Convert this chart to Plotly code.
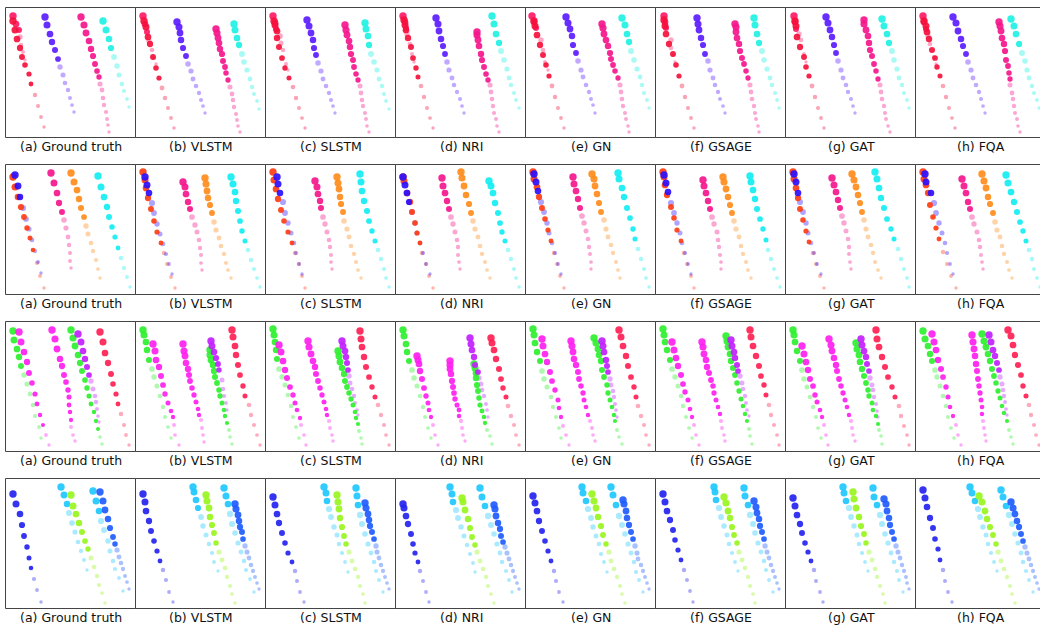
import plotly.graph_objects as go

# ---------------- captions ----------------
CAPTIONS = ["(a) Ground truth", "(b) VLSTM", "(c) SLSTM", "(d) NRI",
            "(e) GN", "(f) GSAGE", "(g) GAT", "(h) FQA"]

# Each agent: 8 panels (a..h); each panel = [observed/strong points, faded points]
# coordinates are panel units (0..130, y downward)

# ---------------- row 1 ----------------
R1_RED = [
 [[(7,13),(9,22),(11,31),(14,40),(16,49),(19,57),(23,66),(25,76)],[(29,87),(32,98),(35,109),(38,119)]],
 [[(8,13),(10,19),(12,29),(14,36),(17,49),(20,60),(23,70)],[(26,80),(29,90),(32,100),(35,110),(38,120)]],
 [[(8,13),(9,17),(11,23),(11,30),(13,39),(16,50),(19,60),(23,70)],[(27,79),(30,90),(33,100),(36,110),(39,120)]],
 [[(8,12),(9,17),(10,22),(12,30),(15,39),(17,50),(20,60),(22,69)],[(25,78),(28,89),(31,100),(34,110),(37,120)]],
 [[(8,13),(9,18),(11,27),(14,37),(17,47),(20,57),(23,68)],[(26,78),(29,89),(32,100),(35,110),(38,120)]],
 [[(8,12),(9,18),(10,26),(13,36),(17,46),(20,57),(23,68)],[(26,78),(29,89),(32,100),(35,110),(38,120)]],
 [[(9,13),(10,18),(11,29),(14,39),(18,49),(20,59),(23,68)],[(26,78),(29,89),(32,100),(35,110),(38,120)]],
 [[(8,13),(10,18),(11,24),(13,31),(16,42),(19,50),(21,59),(24,68)],[(27,78),(30,89),(33,100),(36,110),(39,120)]],
]
R1_PINK = [
 [[(7,8),(10,16),(13,22)],[(14,29),(15,37),(17,44),(19,52)]],
 [[(7,8),(9,16),(11,24)],[(13,33),(16,42),(18,50),(20,56)]],
 [[(7,8),(9,15),(10,21)],[(14,28),(15,35),(17,42),(20,56),(22,62)]],
 [[(7,8),(9,14),(10,20)],[(11,26),(14,36),(16,46),(18,54)]],
 [[(6,8),(8,14),(10,20)],[(15,32),(17,42),(19,54),(22,62)]],
 [[(8,8),(9,14),(10,20)],[(15,32),(15,40),(17,47),(19,54)]],
 [[(8,8),(9,14),(10,21)],[(13,26),(15,32),(18,46),(20,54)]],
 [[(7,8),(8,14),(10,21)],[(12,28),(14,36),(18,49),(20,56)]],
]
R1_PURPLE = [
 [[(39,9),(41,17),(44,26),(46,34),(49,42),(52,51)],[(54,59),(57,67),(59,75),(62,82),(64,90),(66,97),(68,104)]],
 [[(41,14),(43,19),(44,25),(45,32),(47,40),(50,48)],[(52,56),(55,63),(57,71),(60,78),(63,85),(65,92),(67,98),(69,105)]],
 [[(41,12),(43,18),(45,25),(47,32),(48,40),(50,47)],[(52,55),(55,63),(57,71),(60,78),(63,85),(65,92),(67,98),(69,105)]],
 [[(40,10),(42,16),(43,23),(45,31),(47,38),(49,46)],[(51,54),(53,62),(56,70),(58,77),(61,84),(64,91),(66,98),(68,105)]],
 [[(40,9),(42,15),(44,21),(46,28),(47,37),(50,45)],[(52,53),(55,62),(57,69),(60,77),(63,84),(65,91),(67,97),(69,105)]],
 [[(41,10),(42,16),(43,22),(45,30),(47,37),(49,46)],[(52,53),(54,62),(57,70),(59,77),(62,84),(64,91),(67,98),(69,105)]],
 [[(40,9),(42,15),(44,22),(46,29),(48,37),(50,45)],[(52,53),(55,62),(57,70),(60,77),(62,84),(65,91),(67,98),(69,105)]],
 [[(37,9),(40,15),(42,23),(45,31),(47,38),(50,46)],[(52,54),(55,62),(57,70),(60,77),(63,84),(65,91),(67,98),(69,105)]],
]
R1_MAGENTA = [
 [[(75,9),(78,17),(80,25),(83,33),(85,41),(87,48),(89,56),(91,63),(93,69)],[(94,76),(96,82),(97,90),(98,97),(100,104),(101,111),(102,117),(103,124)]],
 [[(80,21),(81,25),(82,30),(83,35),(84,41),(86,46),(87,53),(89,59),(90,65),(92,72)],[(94,79),(96,86),(97,92),(98,99),(100,106),(101,112),(102,118),(104,124)]],
 [[(79,17),(80,22),(81,27),(83,33),(84,39),(85,46),(87,52),(88,59),(90,66),(92,72)],[(94,78),(95,85),(96,92),(97,98),(99,105),(100,111),(101,118),(103,124)]],
 [[(81,24),(81,27),(82,32),(83,38),(85,46),(86,52),(88,59),(90,66),(92,72)],[(94,77),(95,84),(96,91),(97,98),(98,105),(100,111),(101,118),(103,124)]],
 [[(76,16),(77,20),(78,26),(80,32),(82,38),(84,45),(85,51),(87,57),(89,63),(92,70)],[(94,77),(95,84),(96,91),(97,98),(99,105),(100,111),(102,118),(103,124)]],
 [[(79,16),(80,19),(80,24),(81,30),(83,36),(84,43),(86,50),(88,56),(90,63),(92,70)],[(94,77),(95,84),(96,91),(98,98),(99,105),(100,111),(102,118),(103,124)]],
 [[(78,12),(78,16),(80,22),(82,28),(83,35),(84,42),(86,48),(88,56),(90,63),(92,71)],[(94,77),(95,84),(96,91),(98,98),(99,105),(100,111),(102,118),(104,124)]],
 [[(83,14),(84,18),(85,23),(86,30),(88,36),(89,43),(90,52),(92,58),(93,65),(94,71)],[(94,77),(96,85),(97,91),(98,98),(99,105),(101,111),(102,118),(104,124)]],
]
R1_CYAN = [
 [[(97,13),(100,22),(103,31),(105,40)],[(108,49),(111,58),(113,67),(116,76),(118,83),(121,91),(123,99)]],
 [[(98,16),(99,22),(101,30),(103,37)],[(106,46),(108,54),(111,62),(114,71),(116,79),(118,86),(121,93),(123,101)]],
 [[(99,15),(100,21),(102,28),(103,37)],[(105,46),(108,54),(111,62),(113,71),(116,78),(118,86),(120,93),(123,101)]],
 [[(96,8),(98,16),(100,26),(103,35)],[(105,43),(108,52),(111,61),(113,70),(115,77),(118,85),(120,92),(123,100)]],
 [[(96,10),(99,17),(101,26),(103,34)],[(105,43),(108,52),(111,61),(114,69),(116,77),(118,85),(121,92),(123,100)]],
 [[(98,10),(99,17),(101,26),(103,35)],[(106,43),(108,52),(111,61),(114,70),(116,77),(119,85),(121,92),(123,100)]],
 [[(96,11),(98,18),(101,26),(103,35)],[(106,43),(108,52),(111,61),(113,70),(116,77),(118,85),(121,92),(123,100)]],
 [[(95,11),(98,18),(100,26),(103,36)],[(106,45),(109,53),(111,62),(113,70),(116,78),(118,85),(121,92),(123,100)]],
]

# ---------------- row 2 ----------------
R2_VERMILION = [
 [[(7,12),(9,22),(12,32),(15,42),(18,52),(21,63),(24,73),(27,85)],[(31,98),(34,111),(38,123)]],
 [[(7,7),(9,15),(10,23),(12,33),(15,44),(18,56),(21,67),(25,78)],[(28,88),(31,99),(35,112),(39,123)]],
 [[(7,7),(8,15),(10,24),(12,34),(15,45),(18,56),(22,67),(26,78)],[(29,88),(33,99),(36,111),(39,123)]],
 [[(7,12),(8,16),(11,28),(14,37),(16,47),(19,58),(21,68),(24,78)],[(26,88),(30,99),(33,111),(37,123)]],
 [[(7,7),(8,14),(11,22),(13,32),(16,43),(19,54),(22,65),(25,76)],[(28,88),(31,99),(34,111),(38,123)]],
 [[(7,7),(8,12),(9,20),(11,30),(15,42),(18,53),(21,65),(25,76)],[(28,88),(31,99),(35,111),(38,123)]],
 [[(7,7),(8,14),(10,23),(12,33),(14,44),(17,55),(20,66),(23,77)],[(27,88),(30,99),(34,111),(38,123)]],
 [[(7,7),(8,14),(10,20),(12,28),(14,40),(17,52),(20,63),(23,74)],[(27,87),(31,99),(35,111),(40,123)]],
]
R2_BLUE = [
 [[(9,10),(12,21),(14,32)],[(17,43),(20,54),(23,64),(26,75),(29,86),(32,97),(35,108)]],
 [[(9,12),(11,20),(13,28)],[(16,38),(18,48),(21,59),(24,69),(27,79),(30,89),(33,99),(36,109)]],
 [[(11,12),(12,19),(14,28)],[(17,37),(19,48),(22,58),(25,68),(28,78),(30,88),(33,99),(36,109)]],
 [[(7,12),(9,20),(11,28),(13,37)],[(16,47),(19,58),(21,68),(24,78),(27,88),(30,99),(34,109)]],
 [[(8,9),(10,17),(12,26)],[(15,37),(18,47),(21,58),(23,68),(26,78),(29,88),(32,99),(35,109)]],
 [[(8,10),(10,18),(12,27)],[(15,38),(18,48),(21,58),(24,68),(26,78),(29,88),(32,99),(35,109)]],
 [[(8,9),(10,17),(12,28)],[(14,37),(17,47),(20,58),(22,68),(25,78),(28,88),(31,99),(35,109)]],
 [[(9,9),(10,17),(15,28)],[(18,38),(20,48),(23,58),(26,68),(29,78),(31,88),(34,99),(37,109)]],
]
R2_PINK = [
 [[(45,8),(48,18),(51,28),(53,38),(56,47)],[(58,55),(60,63),(62,72),(63,80),(64,88),(64,96),(65,103)]],
 [[(47,17),(49,22),(50,29),(52,37),(54,44)],[(56,52),(59,60),(61,67),(63,75),(64,83),(65,90),(65,98),(66,105)]],
 [[(49,16),(51,22),(52,29),(54,36),(55,43)],[(57,52),(59,59),(61,67),(63,75),(64,82),(65,90),(65,97),(66,104)]],
 [[(46,13),(47,21),(49,28),(51,36),(53,44)],[(55,52),(57,59),(59,67),(61,75),(62,82),(62,90),(63,97),(64,104)]],
 [[(47,12),(48,19),(50,26),(52,34),(54,43)],[(56,51),(58,58),(60,66),(62,74),(63,82),(64,89),(65,97),(65,104)]],
 [[(47,15),(48,21),(50,28),(52,36),(54,44)],[(56,52),(58,59),(61,67),(62,75),(63,82),(64,90),(65,97),(65,104)]],
 [[(46,13),(48,20),(50,27),(52,35),(54,43)],[(56,51),(58,58),(60,66),(62,74),(63,82),(63,89),(64,97),(65,104)]],
 [[(46,14),(48,21),(50,28),(52,37),(54,44)],[(56,52),(58,59),(61,67),(63,75),(64,82),(65,90),(66,97),(67,104)]],
]
R2_ORANGE = [
 [[(65,8),(68,17),(71,25),(73,34),(75,43),(78,52)],[(80,61),(82,69),(85,78),(87,86),(90,95),(92,104),(94,113)]],
 [[(69,13),(70,19),(71,26),(72,33),(74,40),(76,48)],[(78,57),(80,65),(83,73),(85,81),(88,89),(90,98),(92,105),(95,113)]],
 [[(71,12),(72,18),(73,24),(74,32),(75,39),(77,47)],[(78,56),(81,64),(83,72),(85,81),(88,89),(90,97),(92,105),(95,113)]],
 [[(65,7),(66,13),(68,21),(70,30),(73,39),(75,48)],[(77,56),(79,64),(82,72),(84,81),(86,89),(89,97),(91,105),(94,113)]],
 [[(66,9),(68,14),(69,21),(71,29),(73,38),(75,47)],[(78,55),(80,64),(82,72),(85,80),(87,88),(90,97),(92,105),(94,113)]],
 [[(67,12),(68,17),(70,24),(72,32),(74,40),(76,48)],[(78,56),(80,64),(83,72),(85,81),(87,89),(90,97),(92,105),(95,113)]],
 [[(66,9),(68,15),(70,22),(72,30),(74,38),(76,47)],[(78,55),(80,64),(82,72),(85,80),(87,88),(89,97),(92,105),(95,113)]],
 [[(66,9),(68,16),(70,23),(72,32),(74,39),(77,48)],[(79,57),(81,65),(84,72),(86,81),(88,89),(91,97),(93,105),(96,113)]],
]
R2_CYAN = [
 [[(92,11),(95,22),(98,32),(101,42),(103,52),(106,62),(109,72),(112,83)],[(115,93),(118,103),(121,112),(124,122)]],
 [[(95,12),(97,19),(99,27),(100,36),(102,46),(104,56),(106,66),(109,76)],[(112,85),(115,95),(118,104),(121,113),(124,122)]],
 [[(94,9),(95,17),(96,26),(98,36),(101,46),(103,56),(106,66),(109,76)],[(112,85),(115,94),(118,104),(120,113),(123,122)]],
 [[(93,16),(95,21),(97,28),(99,38),(102,48),(104,58),(106,67),(109,76)],[(112,85),(115,94),(118,104),(120,113),(123,122)]],
 [[(92,8),(93,14),(96,23),(98,32),(101,43),(104,53),(107,64),(109,74)],[(112,84),(115,94),(118,104),(120,113),(123,122)]],
 [[(94,11),(95,17),(97,25),(99,34),(101,44),(104,54),(107,64),(110,75)],[(112,85),(115,94),(118,104),(121,113),(124,122)]],
 [[(89,7),(91,14),(93,23),(95,33),(98,43),(101,54),(105,64),(108,74)],[(112,84),(115,94),(118,104),(121,113),(123,122)]],
 [[(90,10),(92,18),(95,27),(98,37),(101,47),(104,57),(107,66),(110,76)],[(113,85),(116,94),(118,104),(121,113),(124,122)]],
]

# ---------------- row 3 ----------------
R3_GREEN_A = [
 [[(7,9),(8,18),(11,27),(13,35),(15,44)],[(18,53),(21,62),(24,72),(27,83),(29,94),(33,105),(35,116)]],
 [[(7,8),(8,13),(10,20),(11,28),(13,38)],[(16,47),(18,55),(21,64),(24,74),(27,85),(29,95),(32,105),(35,116)]],
 [[(7,7),(8,13),(9,20),(10,28),(11,37)],[(13,47),(16,55),(19,63),(22,73),(25,84),(27,95),(30,105),(33,116)]],
 [[(7,8),(8,14),(10,22),(11,30),(13,39)],[(16,48),(18,56),(21,64),(24,74),(27,85),(29,95),(32,106),(35,116)]],
 [[(7,7),(8,13),(9,21),(11,30),(14,39)],[(16,49),(18,57),(21,65),(25,75),(27,85),(30,95),(33,106),(35,116)]],
 [[(7,7),(8,13),(9,20),(11,28),(14,38)],[(16,47),(19,55),(22,64),(25,74),(27,84),(30,95),(33,106),(36,116)]],
 [[(7,8),(8,13),(9,20),(11,29),(14,39)],[(16,48),(18,57),(21,65),(24,75),(27,85),(30,95),(32,106),(35,116)]],
 [[(7,9),(9,17),(12,24),(14,32),(16,39)],[(19,48),(21,55),(24,64),(27,74),(30,84),(32,95),(35,106),(38,116)]],
]
R3_MAGENTA_A = [
 [[(13,10),(15,20),(18,30),(21,40),(23,51),(26,61),(29,72),(31,82),(34,93),(37,103)],[(40,113),(43,123)]],
 [[(17,22),(19,29),(20,38),(23,45),(25,54),(27,63),(29,72),(32,81),(35,89),(37,95)],[(38,103),(39,113),(43,123)]],
 [[(13,23),(15,30),(17,39),(19,48),(21,56),(24,65),(27,73),(29,81),(31,88),(34,96)],[(35,103),(38,113),(40,123)]],
 [[(21,34),(22,38),(23,42),(24,49),(26,57),(28,66),(30,74),(32,81),(33,88),(35,95)],[(37,103),(39,113),(42,123)]],
 [[(16,17),(17,24),(19,32),(21,40),(24,50),(26,59),(29,68),(32,78),(33,86),(35,95)],[(37,104),(40,113),(43,123)]],
 [[(16,20),(18,28),(20,36),(22,44),(25,53),(27,62),(29,70),(32,78),(34,87),(36,95)],[(38,103),(40,113),(43,123)]],
 [[(16,24),(18,32),(20,40),(22,48),(24,57),(27,64),(29,73),(31,80),(34,88),(36,95)],[(38,103),(40,113),(42,123)]],
 [[(16,12),(18,20),(20,28),(22,38),(25,47),(27,55),(30,65),(32,75),(34,85),(37,94)],[(40,103),(42,113),(45,123)]],
]
R3_MAGENTA_B = [
 [[(46,8),(49,17),(51,27),(54,37),(56,44),(58,53),(60,60),(62,68),(63,75),(63,83),(64,90),(65,98)],[(65,105),(67,113),(69,119)]],
 [[(47,22),(48,29),(49,34),(50,41),(52,47),(53,53),(54,59),(56,66),(58,73),(60,80),(62,87),(63,93)],[(65,98),(66,106),(67,113),(68,120)]],
 [[(42,19),(43,25),(45,32),(47,39),(49,45),(50,52),(52,59),(54,66),(56,73),(58,80),(60,87),(61,93)],[(63,99),(64,106),(66,113),(67,119)]],
 [[(54,39),(54,43),(54,47),(55,52),(56,59),(57,65),(58,71),(59,77),(61,83),(63,88),(63,94)],[(65,99),(66,106),(67,113),(69,119)]],
 [[(45,19),(46,24),(47,30),(48,37),(50,43),(52,50),(53,57),(55,64),(57,71),(58,78),(60,85),(62,93)],[(64,99),(66,106),(67,113),(69,119)]],
 [[(46,20),(47,25),(48,32),(50,38),(51,45),(53,51),(55,58),(57,64),(58,71),(60,78),(62,85),(64,92)],[(65,99),(66,106),(68,113),(69,119)]],
 [[(43,17),(45,23),(46,29),(48,36),(50,43),(51,49),(53,57),(55,64),(57,71),(59,78),(61,85),(63,93)],[(65,99),(66,106),(67,113),(69,119)]],
 [[(56,13),(57,20),(58,27),(59,34),(60,42),(61,49),(62,57),(63,64),(64,71),(65,78),(66,85),(66,92)],[(67,99),(68,106),(69,113),(70,119)]],
]
R3_GREEN_B = [
 [[(65,8),(67,16),(69,24),(72,33),(74,41),(76,49),(79,58),(81,66),(83,74),(85,82),(88,90),(90,99),(92,107)],[(94,115),(96,122)]],
 [[(74,28),(74,33),(75,38),(77,43),(78,49),(79,55),(81,61),(83,68),(84,74),(86,81),(88,88),(89,94),(91,101)],[(93,108),(94,115),(96,122)]],
 [[(72,29),(73,34),(74,40),(76,46),(78,52),(79,59),(81,65),(83,71),(85,77),(87,83),(89,90),(90,96),(92,102)],[(93,109),(95,116),(96,122)]],
 [[(78,42),(79,46),(80,51),(80,56),(81,63),(82,69),(83,76),(84,83),(86,89),(88,95),(89,101)],[(91,108),(94,114),(96,122)]],
 [[(68,16),(70,21),(72,27),(73,33),(75,39),(76,48),(78,55),(81,63),(82,71),(84,78),(86,85),(88,93),(89,99)],[(91,108),(93,115),(96,122)]],
 [[(70,14),(71,19),(72,25),(74,32),(75,39),(77,46),(79,53),(81,61),(83,69),(85,77),(87,84),(89,92),(91,99)],[(93,107),(94,114),(96,122)]],
 [[(70,21),(71,27),(73,33),(74,40),(76,47),(78,54),(80,61),(82,68),(83,74),(86,81),(87,88),(90,94),(92,102)],[(93,108),(95,114),(96,122)]],
 [[(66,12),(68,19),(70,25),(72,32),(74,39),(76,47),(78,54),(80,61),(82,69),(84,76),(86,84),(88,91),(91,99)],[(93,108),(95,115),(97,122)]],
]
R3_VIOLET = [
 [[(72,12),(75,20),(77,29),(79,37),(81,45),(83,53)],[(85,59),(87,67),(89,74),(90,80),(91,87),(92,94),(93,100)]],
 [[(75,19),(76,24),(78,30),(80,36),(82,42),(83,48)],[(86,58),(87,67),(88,74),(90,81),(91,88)]],
 [[(76,19),(77,24),(79,29),(80,35),(81,41),(82,48)],[(83,54),(84,61),(86,67),(88,74),(89,81),(91,88),(92,93)]],
 [[(74,16),(75,22),(76,28),(78,35),(79,43),(82,50)],[(83,56),(85,62),(86,68),(88,74),(90,82),(91,88),(92,95)]],
 [[(76,19),(77,24),(78,30),(80,38),(81,44),(82,50)],[(84,57),(85,63),(87,69),(88,75),(89,82),(90,88),(91,95)]],
 [[(75,18),(76,24),(78,30),(79,36),(81,43),(82,49)],[(84,54),(86,61),(87,67),(89,74),(90,81),(91,88),(93,94)]],
 [[(75,17),(76,23),(78,29),(80,35),(81,42),(83,49)],[(84,56),(86,63),(87,68),(88,75),(90,82),(91,89),(92,95)]],
 [[(73,13),(75,20),(77,28),(79,34),(81,41),(83,48)],[(84,55),(86,62),(87,68),(88,74),(89,80),(90,87),(91,93)]],
]
R3_RED = [
 [[(94,10),(97,20),(99,31),(102,41),(105,52),(107,62),(110,72),(112,82)],[(115,92),(118,103),(120,113),(123,123)]],
 [[(96,8),(97,15),(99,24),(100,33),(102,43),(104,53),(107,64),(109,74)],[(113,83),(115,93),(118,103),(121,113),(124,123)]],
 [[(94,9),(95,17),(96,25),(98,35),(100,45),(103,55),(106,65),(109,75)],[(112,83),(115,93),(118,103),(120,113),(123,123)]],
 [[(95,16),(96,21),(98,28),(100,37),(103,47),(105,57),(107,66),(110,75)],[(112,84),(115,94),(118,103),(120,113),(123,123)]],
 [[(93,8),(95,15),(97,24),(100,34),(102,44),(105,55),(108,65),(110,75)],[(112,84),(115,94),(118,103),(120,113),(123,123)]],
 [[(94,8),(95,15),(97,24),(100,34),(103,44),(105,54),(108,63),(110,73)],[(113,83),(115,93),(118,103),(121,113),(123,123)]],
 [[(90,8),(91,17),(93,25),(96,35),(99,45),(102,55),(106,65),(109,75)],[(113,84),(115,94),(118,104),(121,113),(123,123)]],
 [[(92,8),(95,14),(97,23),(99,33),(102,43),(105,53),(107,64),(110,74)],[(113,83),(115,93),(118,103),(120,113),(123,123)]],
]

# ---------------- row 4 ----------------
R4_BLUE_A = [
 [[(7,15),(10,25),(14,35),(16,46),(18,57),(21,68),(23,79),(25,89)],[(28,100),(31,111),(35,123)]],
 [[(7,15),(9,23),(10,32),(13,42),(15,52),(18,62),(21,72),(24,82)],[(27,91),(30,101),(33,113),(37,123)]],
 [[(7,18),(9,26),(11,35),(13,44),(16,54),(19,64),(22,74),(26,83)],[(29,92),(31,102),(34,113),(38,123)]],
 [[(7,25),(8,29),(10,37),(12,45),(15,55),(17,65),(19,74),(22,83)],[(24,92),(27,102),(30,113),(33,123)]],
 [[(7,17),(9,24),(11,32),(13,42),(16,52),(19,62),(22,72),(25,82)],[(28,92),(30,102),(33,113),(37,123)]],
 [[(7,15),(9,23),(11,32),(14,41),(17,51),(19,61),(22,71),(25,81)],[(28,91),(31,101),(34,112),(37,123)]],
 [[(7,19),(9,27),(11,36),(14,45),(16,54),(19,64),(22,73),(25,82)],[(28,91),(30,102),(34,113),(37,123)]],
 [[(7,11),(9,19),(11,28),(14,39),(17,49),(19,60),(22,70),(24,81)],[(27,91),(29,102),(32,113),(36,123)]],
]
R4_SKY_A = [
 [[(55,8),(58,16),(61,25)],[(63,34),(66,44),(69,53),(72,63),(75,72),(78,81),(81,91)]],
 [[(57,8),(58,13),(60,21),(62,29)],[(65,38),(67,47),(70,56),(73,65),(76,74),(78,83),(82,92)]],
 [[(58,8),(60,14),(61,22)],[(63,30),(65,38),(68,48),(71,56),(73,65),(76,74),(79,83),(82,93)]],
 [[(54,8),(56,15),(57,23)],[(60,31),(62,39),(65,48),(68,57),(71,66),(74,75),(77,84),(79,93)]],
 [[(56,8),(57,14),(60,22)],[(62,30),(65,39),(67,48),(70,57),(73,65),(75,75),(78,83),(81,93)]],
 [[(58,8),(59,13),(60,21)],[(63,29),(65,38),(68,47),(71,56),(73,65),(76,74),(79,83),(82,92)]],
 [[(57,8),(58,14),(60,22)],[(63,29),(65,38),(68,47),(71,56),(73,65),(76,74),(79,83),(82,92)]],
 [[(54,8),(56,14),(59,22)],[(62,30),(64,38),(67,48),(70,56),(72,65),(75,74),(78,83),(81,92)]],
]
R4_LIME = [
 [[(65,16),(67,27),(70,35),(73,44),(76,53),(79,62),(82,70)],[(85,79),(88,88),(91,97),(93,106),(96,114),(99,124)]],
 [[(70,16),(71,22),(73,29),(74,38),(76,46),(78,54),(80,64)],[(83,73),(86,81),(89,89),(91,98),(94,107),(96,115),(99,124)]],
 [[(71,16),(72,23),(73,30),(74,39),(76,48),(78,57),(80,65)],[(83,73),(86,82),(89,90),(92,98),(94,107),(97,115),(99,124)]],
 [[(66,19),(67,23),(69,31),(72,40),(74,49),(76,58),(79,66)],[(81,73),(84,82),(87,90),(90,98),(92,107),(95,115),(98,124)]],
 [[(66,15),(68,22),(70,29),(72,38),(75,47),(77,56),(80,65)],[(83,73),(85,82),(88,90),(91,98),(94,107),(96,115),(99,124)]],
 [[(68,18),(70,24),(72,32),(74,39),(76,48),(78,56),(81,64)],[(83,73),(86,81),(89,89),(92,98),(94,107),(97,115),(99,124)]],
 [[(67,13),(68,20),(70,29),(73,38),(75,47),(78,55),(80,64)],[(83,73),(86,81),(89,90),(91,98),(94,107),(97,115),(99,124)]],
 [[(63,17),(66,23),(69,32),(71,40),(74,48),(77,56),(80,65)],[(82,73),(85,82),(88,90),(91,98),(94,107),(96,115),(99,124)]],
]
R4_SKY_B = [
 [[(87,12),(90,22),(93,32)],[(95,42),(98,51),(102,62),(104,72),(107,82),(109,90),(113,99),(117,112)]],
 [[(88,9),(90,17),(92,25)],[(94,35),(96,45),(99,54),(102,64),(105,73),(108,82),(110,91),(114,100),(118,113)]],
 [[(90,9),(91,17),(92,26)],[(94,36),(96,45),(99,55),(102,65),(105,74),(108,83),(110,92),(113,101),(117,113)]],
 [[(84,9),(86,18),(89,27)],[(92,37),(95,46),(98,55),(101,65),(104,74),(106,83),(110,92),(113,101),(116,113)]],
 [[(85,8),(87,16),(90,26)],[(93,37),(96,46),(99,55),(102,65),(105,74),(108,83),(110,93),(113,101),(117,113)]],
 [[(88,9),(89,17),(92,26)],[(94,36),(97,45),(99,54),(102,64),(105,73),(108,82),(110,91),(113,101),(117,113)]],
 [[(87,9),(88,18),(91,26)],[(94,36),(96,45),(99,55),(102,64),(105,74),(108,83),(111,92),(113,101),(117,113)]],
 [[(85,11),(87,18),(90,27)],[(93,36),(96,45),(99,55),(102,64),(105,74),(107,83),(110,92),(113,101),(117,113)]],
]
R4_BLUE_B = [
 [[(94,13),(97,22),(99,31),(102,40),(104,49),(107,58),(109,65)],[(111,71),(113,78),(115,84),(117,90),(119,97),(121,103),(123,110)]],
 [[(99,25),(100,30),(102,36),(103,42),(104,48),(106,53),(107,60)],[(109,67),(111,73),(113,79),(115,86),(117,92),(119,98),(121,104),(123,110)]],
 [[(99,24),(100,29),(102,35),(103,41),(104,47),(106,53),(108,60)],[(110,67),(111,73),(113,79),(115,86),(117,92),(119,98),(121,104),(123,110)]],
 [[(98,26),(99,30),(100,37),(102,44),(104,50),(105,57),(107,63)],[(109,68),(111,74),(113,80),(115,86),(117,92),(119,98),(121,104),(123,110)]],
 [[(97,21),(98,25),(100,32),(101,39),(103,46),(105,53),(107,60)],[(109,67),(111,74),(112,80),(115,86),(117,92),(119,98),(121,104),(123,110)]],
 [[(98,22),(100,28),(101,34),(103,40),(104,47),(106,53),(108,60)],[(109,67),(111,73),(113,79),(115,86),(117,92),(119,98),(121,104),(123,110)]],
 [[(98,20),(100,25),(101,32),(103,39),(104,46),(106,53),(108,60)],[(110,67),(112,73),(114,79),(116,86),(118,92),(120,98),(121,104),(123,110)]],
 [[(95,23),(97,29),(99,35),(101,42),(103,48),(105,55),(107,62)],[(109,68),(111,74),(113,80),(115,86),(117,92),(119,98),(121,104),(123,110)]],
]

# ---------------- styling ----------------
ROWS = [
    [(R1_PINK, (255, 26, 102)), (R1_RED, (245, 16, 60)), (R1_PURPLE, (91, 28, 255)),
     (R1_MAGENTA, (245, 22, 140)), (R1_CYAN, (30, 242, 228))],
    [(R2_VERMILION, (255, 61, 18)), (R2_BLUE, (42, 15, 255)), (R2_PINK, (245, 22, 140)),
     (R2_ORANGE, (255, 140, 26)), (R2_CYAN, (18, 238, 242))],
    [(R3_GREEN_A, (46, 240, 46)), (R3_MAGENTA_A, (255, 31, 240)), (R3_MAGENTA_B, (255, 31, 240)),
     (R3_GREEN_B, (46, 240, 46)), (R3_VIOLET, (194, 31, 255)), (R3_RED, (255, 31, 82))],
    [(R4_BLUE_A, (36, 36, 240)), (R4_SKY_A, (30, 200, 255)), (R4_LIME, (152, 245, 30)),
     (R4_SKY_B, (30, 200, 255)), (R4_BLUE_B, (31, 92, 255))],
]

W, H = 1040, 628
PANEL = 130
COL_LEFT = [6, 136, 266, 396, 526, 656, 786, 916]
ROW_TOP = [8, 165, 322, 479]

fig = go.Figure()
layout = dict(width=W, height=H, margin=dict(l=0, r=0, t=0, b=0),
              paper_bgcolor="white", plot_bgcolor="rgba(0,0,0,0)",
              showlegend=False, autosize=False)
shapes, annotations = [], []

def size_for(i, n):
    if n <= 1:
        return 7.4
    return 7.4 - 4.0 * i / (n - 1)

for r in range(4):
    top = ROW_TOP[r]
    for c in range(8):
        idx = r * 8 + c + 1
        left = COL_LEFT[c]
        right = min(left + PANEL, W)
        xname = "xaxis" if idx == 1 else f"xaxis{idx}"
        yname = "yaxis" if idx == 1 else f"yaxis{idx}"
        xref = "x" if idx == 1 else f"x{idx}"
        yref = "y" if idx == 1 else f"y{idx}"
        layout[xname] = dict(domain=[left / W, right / W], range=[0, right - left],
                             visible=False, fixedrange=True, anchor=yref)
        layout[yname] = dict(domain=[1 - (top + PANEL) / H, 1 - top / H], range=[PANEL, 0],
                             visible=False, fixedrange=True, anchor=xref)
        # faded points first, strong points above them
        for layer in (1, 0):
            for agent, (cr, cg, cb) in ROWS[r]:
                strong, faded = agent[c]
                n = len(strong) + len(faded)
                pts = strong if layer == 0 else faded
                offset = 0 if layer == 0 else len(strong)
                if not pts:
                    continue
                alpha = 0.92 if layer == 0 else 0.38
                fig.add_trace(go.Scatter(
                    x=[p[0] for p in pts], y=[p[1] for p in pts],
                    mode="markers", xaxis=xref, yaxis=yref, hoverinfo="skip",
                    marker=dict(size=[size_for(offset + i, n) for i in range(len(pts))],
                                color=f"rgba({cr},{cg},{cb},{alpha})",
                                opacity=1, line=dict(width=0)),
                ))
        # panel frame
        shapes.append(dict(type="rect", xref="paper", yref="paper",
                           x0=(left - 0.5) / W, x1=(left + PANEL - 0.5) / W,
                           y0=1 - (top + PANEL - 0.5) / H, y1=1 - (top - 0.5) / H,
                           line=dict(color="#444444", width=1), fillcolor="rgba(0,0,0,0)",
                           layer="above"))
        annotations.append(dict(text=CAPTIONS[c], xref="paper", yref="paper",
                                x=(left + PANEL / 2) / W, y=1 - (top + 138.5) / H,
                                xanchor="center", yanchor="middle", showarrow=False,
                                font=dict(family="DejaVu Sans", size=12.5, color="#111111")))

layout["shapes"] = shapes
layout["annotations"] = annotations
fig.update_layout(**layout)
fig.write_html("out.html", config={"displayModeBar": False},
               post_script="document.body.style.margin='0';document.body.style.overflow='hidden';")
